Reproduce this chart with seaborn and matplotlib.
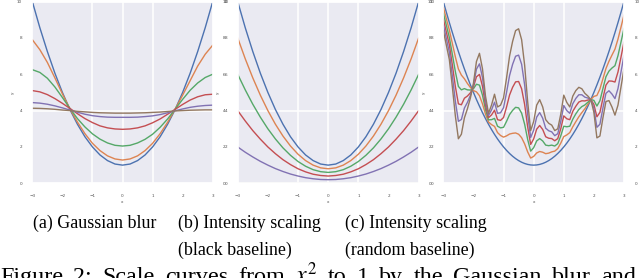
import matplotlib
matplotlib.use("Agg")
import matplotlib.pyplot as plt
import pandas as pd
import seaborn as sns

# x grid shared by panels (a) and (b)
x_grid = [-3.0, -2.75, -2.5, -2.25, -2.0, -1.75, -1.5, -1.25, -1.0, -0.75, -0.5, -0.25,
          0.0, 0.25, 0.5, 0.75, 1.0, 1.25, 1.5, 1.75, 2.0, 2.25, 2.5, 2.75, 3.0]

# (a) Gaussian blur, curves for growing blur
blur_0 = [10.0, 8.56, 7.25, 6.06, 5.0, 4.06, 3.25, 2.56, 2.0, 1.56, 1.25, 1.06,
          1.0, 1.06, 1.25, 1.56, 2.0, 2.56, 3.25, 4.06, 5.0, 6.06, 7.25, 8.56, 10.0]
blur_1 = [7.9, 7.35, 6.65, 5.8, 4.92, 4.1, 3.37, 2.73, 2.2, 1.8, 1.51, 1.34,
          1.28, 1.34, 1.51, 1.8, 2.2, 2.73, 3.36, 4.08, 4.85, 5.65, 6.45, 7.1, 7.6]
blur_2 = [6.25, 6.1, 5.78, 5.3, 4.72, 4.12, 3.56, 3.1, 2.72, 2.43, 2.22, 2.09,
          2.05, 2.09, 2.22, 2.42, 2.7, 3.08, 3.54, 4.08, 4.62, 5.12, 5.52, 5.82, 6.0]
blur_3 = [5.1, 5.03, 4.88, 4.66, 4.4, 4.12, 3.83, 3.56, 3.34, 3.16, 3.05, 2.99,
          2.97, 2.99, 3.05, 3.16, 3.33, 3.54, 3.8, 4.07, 4.34, 4.58, 4.76, 4.87, 4.9]
blur_4 = [4.44, 4.41, 4.35, 4.26, 4.15, 4.03, 3.91, 3.8, 3.72, 3.67, 3.64, 3.63,
          3.63, 3.63, 3.64, 3.67, 3.71, 3.78, 3.88, 3.99, 4.09, 4.18, 4.24, 4.28, 4.3]
blur_5 = [4.13, 4.12, 4.1, 4.07, 4.03, 4.0, 3.96, 3.93, 3.9, 3.88, 3.87, 3.86,
          3.86, 3.86, 3.87, 3.88, 3.9, 3.92, 3.95, 3.98, 4.0, 4.02, 4.03, 4.04, 4.04]

# (b) intensity scaling towards a black baseline
black_0 = [10.0, 8.56, 7.25, 6.06, 5.0, 4.06, 3.25, 2.56, 2.0, 1.56, 1.25, 1.06,
           1.0, 1.06, 1.25, 1.56, 2.0, 2.56, 3.25, 4.06, 5.0, 6.06, 7.25, 8.56, 10.0]
black_1 = [8.0, 6.85, 5.8, 4.85, 4.0, 3.25, 2.6, 2.05, 1.6, 1.25, 1.0, 0.85,
           0.8, 0.85, 1.0, 1.25, 1.6, 2.05, 2.6, 3.25, 4.0, 4.85, 5.8, 6.85, 8.0]
black_2 = [6.0, 5.14, 4.35, 3.64, 3.0, 2.44, 1.95, 1.54, 1.2, 0.94, 0.75, 0.64,
           0.6, 0.64, 0.75, 0.94, 1.2, 1.54, 1.95, 2.44, 3.0, 3.64, 4.35, 5.14, 6.0]
black_3 = [4.0, 3.43, 2.9, 2.43, 2.0, 1.63, 1.3, 1.03, 0.8, 0.63, 0.5, 0.43,
           0.4, 0.43, 0.5, 0.63, 0.8, 1.03, 1.3, 1.63, 2.0, 2.43, 2.9, 3.43, 4.0]
black_4 = [2.0, 1.71, 1.45, 1.21, 1.0, 0.81, 0.65, 0.51, 0.4, 0.31, 0.25, 0.21,
           0.2, 0.21, 0.25, 0.31, 0.4, 0.51, 0.65, 0.81, 1.0, 1.21, 1.45, 1.71, 2.0]
black_5 = [0.0, 0.0, 0.0, 0.0, 0.0, 0.0, 0.0, 0.0, 0.0, 0.0, 0.0, 0.0,
           0.0, 0.0, 0.0, 0.0, 0.0, 0.0, 0.0, 0.0, 0.0, 0.0, 0.0, 0.0, 0.0]

# (c) intensity scaling towards a random baseline (finer x grid)
x_fine = [-3.0, -2.9, -2.8, -2.7, -2.6, -2.5, -2.4, -2.3, -2.2, -2.1, -2.0,
          -1.9, -1.8, -1.7, -1.6, -1.5, -1.4, -1.3, -1.2, -1.1, -1.0,
          -0.9, -0.8, -0.7, -0.6, -0.5, -0.4, -0.3, -0.2, -0.1, 0.0,
          0.1, 0.2, 0.3, 0.4, 0.5, 0.6, 0.7, 0.8, 0.9, 1.0,
          1.1, 1.2, 1.3, 1.4, 1.5, 1.6, 1.7, 1.8, 1.9, 2.0,
          2.1, 2.2, 2.3, 2.4, 2.5, 2.6, 2.7, 2.8, 2.9, 3.0]
rand_0 = [10.0, 9.41, 8.84, 8.29, 7.76, 7.25, 6.76, 6.29, 5.84, 5.41, 5.0,
          4.61, 4.24, 3.89, 3.56, 3.25, 2.96, 2.69, 2.44, 2.21, 2.0,
          1.81, 1.64, 1.49, 1.36, 1.25, 1.16, 1.09, 1.04, 1.01, 1.0,
          1.01, 1.04, 1.09, 1.16, 1.25, 1.36, 1.49, 1.64, 1.81, 2.0,
          2.21, 2.44, 2.69, 2.96, 3.25, 3.56, 3.89, 4.24, 4.61, 5.0,
          5.41, 5.84, 6.29, 6.76, 7.25, 7.76, 8.29, 8.84, 9.41, 10.0]
rand_1 = [9.68, 9.05, 8.43, 7.69, 6.95, 6.29, 5.95, 5.75, 5.49, 5.27, 5.1,
          5.03, 4.82, 4.37, 3.81, 3.37, 3.23, 3.13, 2.79, 2.63, 2.54,
          2.61, 2.71, 2.75, 2.77, 2.70, 2.51, 2.17, 1.73, 1.39, 1.48,
          1.67, 1.75, 1.71, 1.63, 1.66, 1.73, 1.77, 1.91, 2.21, 2.57,
          2.66, 2.79, 3.11, 3.39, 3.66, 3.89, 4.10, 4.35, 4.61, 4.78,
          4.83, 5.19, 5.75, 6.31, 6.71, 7.05, 7.38, 7.93, 8.59, 9.26]
rand_2 = [9.36, 8.69, 8.02, 7.09, 6.14, 5.33, 5.14, 5.21, 5.14, 5.13, 5.2,
          5.45, 5.40, 4.85, 4.06, 3.49, 3.50, 3.57, 3.14, 3.05, 3.08,
          3.41, 3.78, 4.01, 4.18, 4.15, 3.86, 3.25, 2.42, 1.77, 1.96,
          2.33, 2.46, 2.33, 2.10, 2.07, 2.10, 2.05, 2.18, 2.61, 3.14,
          3.11, 3.14, 3.53, 3.82, 4.06, 4.22, 4.31, 4.46, 4.61, 4.56,
          4.25, 4.54, 5.21, 5.86, 6.17, 6.34, 6.47, 7.02, 7.77, 8.52]
rand_3 = [9.04, 8.32, 7.62, 6.50, 5.32, 4.37, 4.32, 4.68, 4.80, 4.98, 5.3,
          5.86, 5.99, 5.34, 4.30, 3.61, 3.76, 4.02, 3.50, 3.46, 3.62,
          4.20, 4.86, 5.28, 5.58, 5.60, 5.20, 4.34, 3.12, 2.14, 2.44,
          2.98, 3.18, 2.96, 2.56, 2.48, 2.46, 2.34, 2.46, 3.00, 3.71,
          3.55, 3.50, 3.96, 4.24, 4.47, 4.54, 4.53, 4.58, 4.60, 4.34,
          3.66, 3.90, 4.68, 5.40, 5.63, 5.62, 5.57, 6.12, 6.94, 7.78]
rand_4 = [8.72, 7.96, 7.21, 5.90, 4.51, 3.41, 3.51, 4.14, 4.45, 4.84, 5.4,
          6.28, 6.57, 5.82, 4.55, 3.73, 4.03, 4.46, 3.85, 3.88, 4.16,
          5.00, 5.93, 6.54, 6.99, 7.05, 6.55, 5.42, 3.81, 2.52, 2.92,
          3.64, 3.89, 3.58, 3.03, 2.89, 2.83, 2.62, 2.73, 3.40, 4.28,
          4.00, 3.85, 4.38, 4.67, 4.87, 4.87, 4.74, 4.69, 4.60, 4.12,
          3.08, 3.25, 4.14, 4.95, 5.09, 4.91, 4.66, 5.21, 6.12, 7.04]
rand_5 = [8.4, 7.6, 6.8, 5.3, 3.7, 2.45, 2.7, 3.6, 4.1, 4.7, 5.5,
          6.7, 7.15, 6.3, 4.8, 3.85, 4.3, 4.9, 4.2, 4.3, 4.7,
          5.8, 7.0, 7.8, 8.4, 8.5, 7.9, 6.5, 4.5, 2.9, 3.4,
          4.3, 4.6, 4.2, 3.5, 3.3, 3.2, 2.9, 3.0, 3.8, 4.85,
          4.45, 4.2, 4.8, 5.1, 5.28, 5.2, 4.95, 4.8, 4.6, 3.9,
          2.5, 2.6, 3.6, 4.5, 4.55, 4.2, 3.75, 4.3, 5.3, 6.3]

x_ticks = [-3, -2, -1, 0, 1, 2, 3]
y_ticks = [0, 2, 4, 6, 8, 10]
# only these grid lines survive in the (downsampled) reference
x_grid_lines = [-1, 0, 1]
y_grid_lines = [4]

caption_words = ['Figure', '2:', 'Scale', 'curves', 'from', '$x^2$', 'to', '1',
                 'by', 'the', 'Gaussian', 'blur', 'and']

sns.set_theme(style="darkgrid")
plt.rcParams['font.family'] = ['DejaVu Sans']
plt.rcParams['mathtext.fontset'] = 'stix'


def draw_panel(ax, x, curves):
    frames = [pd.DataFrame({'x': x, 'y': ys, 'curve': i}) for i, ys in enumerate(curves)]
    df = pd.concat(frames, ignore_index=True)
    sns.lineplot(data=df, x='x', y='y', hue='curve', palette=sns.color_palette('deep', len(curves)),
                 legend=False, linewidth=1.0, errorbar=None, ax=ax)
    ax.set_xlim(-3, 3)
    ax.set_ylim(0, 10)
    ax.set_xticks(x_ticks)
    ax.set_yticks(y_ticks)
    # minor ticks overlap majors, keep them so their grid lines are drawn
    ax.xaxis.remove_overlapping_locs = False
    ax.yaxis.remove_overlapping_locs = False
    ax.set_xticks(x_grid_lines, minor=True)
    ax.set_yticks(y_grid_lines, minor=True)
    ax.grid(False, which='major')
    ax.grid(True, which='minor', color='white', linewidth=1.1)
    ax.tick_params(which='minor', length=0)
    ax.tick_params(labelsize=3, pad=1.5, labelright=True, colors='.3')
    ax.set_xlabel('x', fontsize=3, labelpad=1.5, color='.3')
    ax.set_ylabel('y', fontsize=3, labelpad=1.5, color='.3')


fig = plt.figure(figsize=(6.4, 2.78), dpi=100)
fig.patch.set_facecolor('white')

bottom = 0.3406
height = 0.654
ax_a = fig.add_axes([0.0505, bottom, 0.2819, height])
ax_b = fig.add_axes([0.3714, bottom, 0.2828, height])
ax_c = fig.add_axes([0.6927, bottom, 0.2823, height])

draw_panel(ax_a, x_grid, [blur_0, blur_1, blur_2, blur_3, blur_4, blur_5])
draw_panel(ax_b, x_grid, [black_0, black_1, black_2, black_3, black_4, black_5])
draw_panel(ax_c, x_fine, [rand_0, rand_1, rand_2, rand_3, rand_4, rand_5])

cap = dict(family='Liberation Serif', fontsize=12.9, color='black', va='center', ha='left')
fig.text(33 / 640, 1 - 223 / 278, '(a) Gaussian blur', **cap)
fig.text(178 / 640, 1 - 223 / 278, '(b) Intensity scaling', **cap)
fig.text(178 / 640, 1 - 250 / 278, '(black baseline)', **cap)
fig.text(345 / 640, 1 - 223 / 278, '(c) Intensity scaling', **cap)
fig.text(345 / 640, 1 - 250 / 278, '(random baseline)', **cap)

# main caption line: justified across the full width, cut by the bottom edge
renderer = fig.canvas.get_renderer()
word_texts = [fig.text(0, 1 - 283 / 278, w, family='Liberation Serif', fontsize=17.4,
                       color='black', va='baseline', ha='left') for w in caption_words]
widths = [t.get_window_extent(renderer).width for t in word_texts]
gap = (636 - sum(widths)) / (len(widths) - 1)
pos = 0.0
for t, w in zip(word_texts, widths):
    t.set_x(pos / 640)
    pos += w + gap

fig.savefig('out.png', dpi=100, facecolor='white')
